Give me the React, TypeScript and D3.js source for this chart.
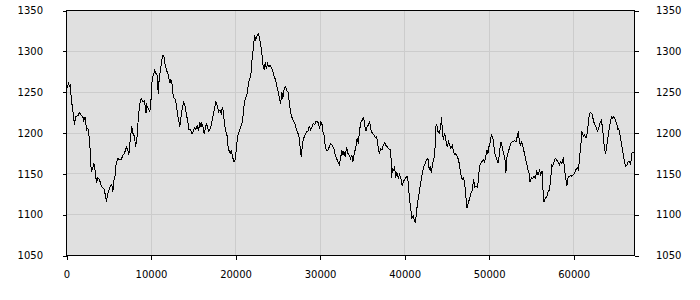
import React, { useEffect, useRef } from "react";
import * as d3 from "d3";

const xValues: number[] = [
  0, 118, 237, 355, 473, 556, 746, 947, 1065, 1337, 1538, 1740, 1929, 2047, 2213, 2367, 2521, 2722, 2840, 2923,
  3112, 3231, 3396, 3550, 3704, 3905, 4106, 4296, 4497, 4580, 4734, 4888, 5053, 5207, 5361, 5479, 5598, 5763, 5881, 6071,
  6272, 6473, 6663, 6864, 7065, 7254, 7373, 7538, 7727, 7893, 8047, 8165, 8319, 8437, 8639, 8840, 9029, 9231, 9400, 9500,
  9668, 9858, 9976, 10094, 10260, 10449, 10568, 10734, 10852, 10970, 11124, 11242, 11361, 11515, 11633, 11834, 12035, 12224, 12343, 12508,
  12627, 12816, 12934, 13100, 13254, 13408, 13526, 13727, 13881, 14047, 14201, 14355, 14473, 14674, 14828, 14994, 15183, 15301, 15467, 15621,
  15775, 15893, 16012, 16177, 16296, 16449, 16568, 16686, 16840, 17041, 17195, 17361, 17550, 17668, 17834, 17988, 18142, 18307, 18461, 18579,
  18698, 18852, 19017, 19135, 19372, 19490, 19644, 19798, 19964, 20082, 20236, 20437, 20626, 20827, 20981, 21147, 21336, 21455, 21573, 21692,
  21810, 21928, 22094, 22248, 22402, 22567, 22721, 22839, 22993, 23112, 23277, 23396, 23514, 23632, 23786, 23940, 24106, 24295, 24413, 24579,
  24733, 24887, 25053, 25206, 25325, 25479, 25597, 25763, 25917, 26071, 26236, 26390, 26544, 26710, 26899, 27065, 27218, 27372, 27538, 27656,
  27774, 27928, 28082, 28248, 28402, 28556, 28722, 28875, 29076, 29194, 29355, 29502, 29668, 29822, 29940, 30058, 30212, 30331, 30497, 30615,
  30768, 30922, 31088, 31242, 31443, 31632, 31798, 31952, 32106, 32271, 32425, 32579, 32697, 32816, 32981, 33135, 33289, 33454, 33608, 33762,
  33881, 34046, 34200, 34401, 34520, 34638, 34792, 34993, 35147, 35265, 35419, 35585, 35739, 35857, 36010, 36176, 36365, 36531, 36685, 36839,
  37004, 37158, 37312, 37478, 37632, 37786, 37951, 38105, 38259, 38378, 38430, 38579, 38697, 38816, 38934, 39088, 39254, 39407, 39561, 39727,
  39881, 40035, 40200, 40354, 40472, 40591, 40745, 40863, 41029, 41147, 41266, 41384, 41502, 41656, 41810, 41976, 42129, 42283, 42449, 42603,
  42757, 42922, 43041, 43159, 43312, 43466, 43584, 43703, 43821, 43940, 44105, 44259, 44378, 44460, 44578, 44732, 44886, 45052, 45206, 45360,
  45478, 45644, 45798, 45951, 46070, 46236, 46389, 46543, 46709, 46863, 46981, 47135, 47253, 47372, 47537, 47691, 47845, 48011, 48165, 48283,
  48437, 48603, 48757, 48840, 48994, 49148, 49313, 49467, 49585, 49739, 49858, 49976, 50142, 50260, 50378, 50497, 50615, 50733, 50887, 51041,
  51159, 51278, 51396, 51514, 51633, 51751, 51869, 51988, 52070, 52224, 52390, 52543, 52697, 52863, 53017, 53171, 53336, 53455, 53573, 53691,
  53845, 54011, 54176, 54330, 54484, 54603, 54721, 54839, 55005, 55159, 55312, 55478, 55632, 55786, 55951, 56105, 56259, 56378, 56496, 56662,
  56815, 56969, 57135, 57289, 57407, 57526, 57680, 57846, 57987, 58141, 58307, 58460, 58614, 58780, 58933, 59087, 59206, 59324, 59490, 59643,
  59797, 59963, 60117, 60271, 60436, 60555, 60673, 60792, 60910, 60981, 61147, 61300, 61454, 61620, 61738, 61857, 62010, 62164, 62330, 62484,
  62638, 62803, 62957, 63111, 63277, 63430, 63549, 63667, 63785, 63904, 64058, 64223, 64377, 64495, 64614, 64768, 64933, 65087, 65205, 65324,
  65478, 65596, 65714, 65880, 65999, 66152, 66306, 66472, 66626, 66744, 66863, 67017, 67200,
];

const yValues: number[] = [
  1261, 1255, 1262, 1256, 1260, 1242, 1228, 1210, 1220, 1221, 1225, 1222, 1220, 1215, 1220, 1204, 1206, 1192, 1171, 1153,
  1157, 1163, 1153, 1139, 1145, 1143, 1135, 1133, 1131, 1124, 1116, 1126, 1131, 1135, 1137, 1128, 1141, 1149, 1163, 1169,
  1167, 1167, 1173, 1175, 1183, 1179, 1173, 1192, 1208, 1198, 1196, 1183, 1192, 1210, 1234, 1242, 1238, 1240, 1224, 1234,
  1230, 1226, 1236, 1261, 1271, 1277, 1273, 1271, 1248, 1267, 1277, 1287, 1295, 1295, 1285, 1277, 1271, 1261, 1265, 1259,
  1244, 1242, 1238, 1226, 1216, 1208, 1218, 1232, 1238, 1232, 1222, 1214, 1204, 1204, 1199, 1202, 1207, 1204, 1209, 1203,
  1213, 1207, 1212, 1206, 1199, 1207, 1212, 1206, 1202, 1206, 1214, 1222, 1232, 1238, 1234, 1226, 1228, 1224, 1232, 1223,
  1210, 1202, 1196, 1181, 1175, 1178, 1171, 1165, 1167, 1179, 1196, 1202, 1208, 1214, 1232, 1242, 1246, 1255, 1263, 1267,
  1271, 1287, 1303, 1320, 1314, 1320, 1322, 1315, 1307, 1297, 1281, 1277, 1287, 1279, 1285, 1281, 1283, 1279, 1275, 1269,
  1265, 1257, 1250, 1242, 1236, 1250, 1242, 1255, 1257, 1252, 1250, 1234, 1224, 1218, 1214, 1210, 1204, 1200, 1194, 1181,
  1171, 1188, 1194, 1198, 1202, 1202, 1208, 1204, 1208, 1212, 1210, 1214, 1214, 1212, 1205, 1214, 1212, 1202, 1196, 1183,
  1179, 1179, 1183, 1187, 1185, 1181, 1173, 1169, 1165, 1161, 1169, 1179, 1173, 1177, 1171, 1183, 1175, 1173, 1169, 1173,
  1165, 1175, 1181, 1194, 1187, 1200, 1212, 1216, 1220, 1210, 1202, 1208, 1210, 1214, 1204, 1200, 1198, 1194, 1196, 1185,
  1175, 1181, 1179, 1185, 1188, 1185, 1183, 1181, 1180, 1179, 1145, 1157, 1153, 1159, 1145, 1151, 1145, 1149, 1145, 1135,
  1141, 1143, 1146, 1147, 1133, 1118, 1106, 1096, 1098, 1094, 1090, 1100, 1112, 1122, 1133, 1143, 1153, 1159, 1163, 1167,
  1169, 1155, 1159, 1151, 1163, 1169, 1177, 1208, 1210, 1202, 1200, 1206, 1220, 1204, 1191, 1200, 1191, 1183, 1189, 1185,
  1181, 1185, 1177, 1173, 1175, 1171, 1167, 1157, 1146, 1143, 1145, 1136, 1122, 1108, 1114, 1120, 1126, 1130, 1143, 1134,
  1135, 1134, 1143, 1159, 1163, 1165, 1167, 1164, 1171, 1179, 1175, 1183, 1189, 1198, 1196, 1191, 1179, 1173, 1169, 1163,
  1169, 1181, 1189, 1185, 1179, 1173, 1169, 1151, 1169, 1175, 1181, 1187, 1189, 1189, 1191, 1189, 1196, 1202, 1191, 1185,
  1189, 1183, 1175, 1167, 1161, 1155, 1151, 1140, 1145, 1144, 1147, 1145, 1153, 1149, 1154, 1149, 1154, 1130, 1116, 1120,
  1122, 1128, 1130, 1143, 1161, 1159, 1165, 1169, 1167, 1165, 1161, 1165, 1163, 1170, 1155, 1143, 1135, 1145, 1147, 1148,
  1147, 1149, 1151, 1155, 1157, 1155, 1165, 1181, 1191, 1202, 1196, 1198, 1194, 1200, 1212, 1224, 1225, 1224, 1216, 1210,
  1208, 1202, 1206, 1212, 1215, 1206, 1191, 1179, 1175, 1183, 1194, 1206, 1216, 1220, 1218, 1220, 1216, 1212, 1205, 1206,
  1198, 1191, 1183, 1173, 1165, 1159, 1161, 1165, 1165, 1161, 1175, 1176, 1175,
];

const yTicks: number[] = [1050, 1100, 1150, 1200, 1250, 1300, 1350];
const xTicks: number[] = [0, 10000, 20000, 30000, 40000, 50000, 60000];
const xDomain: number[] = [0, 67200];
const yDomain: number[] = [1050, 1350];

export default function App() {
  const ref = useRef<SVGSVGElement | null>(null);

  useEffect(() => {
    const svg = d3.select(ref.current);
    svg.selectAll("*").remove();
    const left = 66.5, right = 634.5, top = 10.5, bottom = 255.5;
    const x = d3.scaleLinear().domain(xDomain).range([left, right]);
    const y = d3.scaleLinear().domain(yDomain).range([bottom, top]);

    svg.append("rect")
      .attr("x", left).attr("y", top)
      .attr("width", right - left).attr("height", bottom - top)
      .attr("fill", "#e0e0e0");

    const grid = svg.append("g").attr("stroke", "#cccccc").attr("stroke-width", 1).attr("shape-rendering", "crispEdges");
    grid.selectAll("line.h").data(yTicks).enter().append("line")
      .attr("x1", left).attr("x2", right)
      .attr("y1", (d) => y(d)).attr("y2", (d) => y(d));
    grid.selectAll("line.v").data(xTicks.filter((t) => t > 0)).enter().append("line")
      .attr("y1", top).attr("y2", bottom)
      .attr("x1", (d) => x(d)).attr("x2", (d) => x(d));

    const pts = xValues.map((v, i) => [v, yValues[i]] as [number, number]);
    const line = d3.line<[number, number]>().x((d) => x(d[0])).y((d) => y(d[1]));
    svg.append("path")
      .attr("d", line(pts) as string)
      .attr("fill", "none")
      .attr("stroke", "#000")
      .attr("stroke-width", 1)
      .attr("shape-rendering", "crispEdges");

    svg.append("rect")
      .attr("x", left).attr("y", top)
      .attr("width", right - left).attr("height", bottom - top)
      .attr("fill", "none").attr("stroke", "#000").attr("stroke-width", 1)
      .attr("shape-rendering", "crispEdges");

    const fmt = (d: d3.NumberValue) => String(d);
    const styleAxis = (g: d3.Selection<SVGGElement, unknown, null, undefined>) => {
      g.select(".domain").remove();
      g.selectAll(".tick line").attr("stroke", "#000").attr("shape-rendering", "crispEdges");
      g.selectAll(".tick text")
        .attr("fill", "#000")
        .style("font-family", "'DejaVu Sans', Verdana, sans-serif")
        .style("font-size", "10px");
    };

    svg.append("g")
      .attr("transform", `translate(${left},0)`)
      .call(d3.axisLeft(y).tickValues(yTicks).tickSize(4).tickPadding(19.5).tickFormat(fmt))
      .call(styleAxis as any);

    svg.append("g")
      .attr("transform", `translate(${right},0)`)
      .call(d3.axisRight(y).tickValues(yTicks).tickSize(4).tickPadding(17.5).tickFormat(fmt))
      .call(styleAxis as any);

    svg.append("g")
      .attr("transform", `translate(0,${bottom})`)
      .call(d3.axisBottom(x).tickValues(xTicks).tickSize(4).tickPadding(11.5).tickFormat(fmt))
      .call(styleAxis as any);
  }, []);

  return (
    <svg
      ref={ref}
      width={700}
      height={300}
      style={{ position: "absolute", left: 0, top: 0, background: "#fff" }}
    />
  );
}
